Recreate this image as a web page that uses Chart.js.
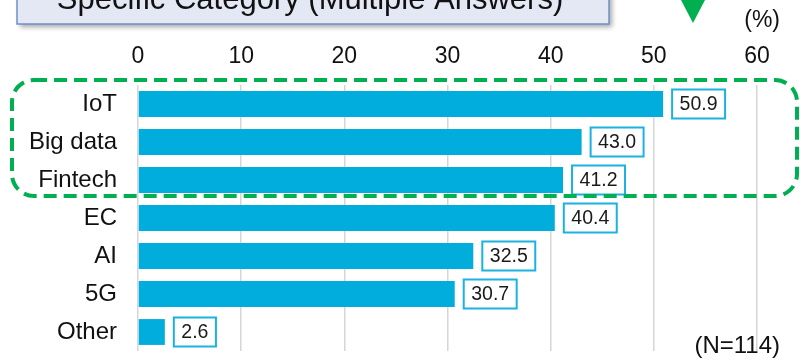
<!DOCTYPE html>
<html>
<head>
<meta charset="utf-8">
<script src="https://cdn.jsdelivr.net/npm/chart.js@4.4.1/dist/chart.umd.min.js"></script>
<style>
  html, body { margin: 0; padding: 0; background: #fff; }
  #wrap { width: 800px; height: 360px; }
</style>
</head>
<body>
<div id="wrap"><canvas id="chart"></canvas></div>
<script>
const categories = ['IoT', 'Big data', 'Fintech', 'EC', 'AI', '5G', 'Other'];
const shares = [50.9, 43.0, 41.2, 40.4, 32.5, 30.7, 2.6];
const axisMin = 0;
const axisMax = 60;
const axisStep = 10;

const titleText = 'Specific Category (Multiple Answers)';
const unitText = '(%)';
const sampleText = '(N=114)';

const FONT = '"Liberation Sans", Arial, Helvetica, sans-serif';
const BAR_BLUE = '#00ADDC';
const GREEN = '#00B050';

function roundedRect(ctx, x, y, w, h, r) {
  ctx.beginPath();
  ctx.moveTo(x + r, y);
  ctx.arcTo(x + w, y, x + w, y + h, r);
  ctx.arcTo(x + w, y + h, x, y + h, r);
  ctx.arcTo(x, y + h, x, y, r);
  ctx.arcTo(x, y, x + w, y, r);
  ctx.closePath();
}

// boxed value next to the end of every bar
const valueBoxes = {
  id: 'valueBoxes',
  afterDatasetsDraw(chart) {
    const ctx = chart.ctx;
    const meta = chart.getDatasetMeta(0);
    ctx.save();
    ctx.font = '19.5px ' + FONT;
    ctx.textAlign = 'center';
    ctx.textBaseline = 'middle';
    meta.data.forEach((bar, i) => {
      const txt = shares[i].toFixed(1);
      const w = ctx.measureText(txt).width + 15;
      const h = 29;
      const x = bar.x + 9;
      const y = bar.y - h / 2;
      ctx.fillStyle = '#fff';
      ctx.fillRect(x, y, w, h);
      ctx.lineWidth = 2;
      ctx.strokeStyle = '#1BB2E0';
      ctx.strokeRect(x, y, w, h);
      ctx.fillStyle = '#1a1a1a';
      ctx.fillText(txt, x + w / 2, bar.y + 1);
    });
    ctx.restore();
  }
};

// title box, highlight frame, marker and notes
const overlay = {
  id: 'overlay',
  afterDraw(chart) {
    const ctx = chart.ctx;
    ctx.save();

    // title box (top cut by the canvas edge)
    ctx.save();
    ctx.shadowColor = 'rgba(0,0,0,0.35)';
    ctx.shadowBlur = 5;
    ctx.shadowOffsetX = 3;
    ctx.shadowOffsetY = 3;
    ctx.fillStyle = '#E4E8F5';
    ctx.fillRect(17, -30, 592, 54);
    ctx.restore();
    ctx.lineWidth = 1.5;
    ctx.strokeStyle = '#6E8FC9';
    ctx.strokeRect(17, -30, 592, 54);
    ctx.fillStyle = '#111';
    ctx.font = '31px ' + FONT;
    ctx.textAlign = 'center';
    ctx.textBaseline = 'alphabetic';
    ctx.fillText(titleText, 310, 9);

    // green marker
    ctx.fillStyle = GREEN;
    ctx.beginPath();
    ctx.moveTo(681, 0);
    ctx.lineTo(705, 0);
    ctx.lineTo(693, 23);
    ctx.closePath();
    ctx.fill();

    // dashed frame around the top three rows
    ctx.setLineDash([13, 7]);
    ctx.lineWidth = 4;
    ctx.strokeStyle = GREEN;
    roundedRect(ctx, 12, 80, 785, 116, 22);
    ctx.stroke();
    ctx.setLineDash([]);

    // unit and sample size
    ctx.fillStyle = '#111';
    ctx.textAlign = 'right';
    ctx.font = '23px ' + FONT;
    ctx.textBaseline = 'middle';
    ctx.fillText(unitText, 780, 21);
    ctx.font = '24px ' + FONT;
    ctx.textBaseline = 'alphabetic';
    ctx.fillText(sampleText, 780, 353);

    ctx.restore();
  }
};

new Chart(document.getElementById('chart'), {
  type: 'bar',
  data: {
    labels: categories,
    datasets: [{
      data: shares,
      backgroundColor: BAR_BLUE,
      borderWidth: 0,
      barPercentage: 0.68,
      categoryPercentage: 1
    }]
  },
  options: {
    indexAxis: 'y',
    responsive: true,
    maintainAspectRatio: false,
    animation: false,
    layout: { padding: { left: 0, right: 43, top: 0, bottom: 9 } },
    plugins: {
      legend: { display: false },
      tooltip: { enabled: false }
    },
    scales: {
      x: {
        position: 'top',
        min: axisMin,
        max: axisMax,
        border: { display: false },
        grid: { color: '#D6D6D6', lineWidth: 1.5, drawTicks: false },
        ticks: {
          stepSize: axisStep,
          padding: 15,
          color: '#111',
          font: { family: FONT, size: 23 }
        },
        afterFit(scale) { scale.height = 85; }
      },
      y: {
        border: { display: false },
        grid: { display: false, drawTicks: false },
        ticks: {
          padding: 21,
          color: '#111',
          font: { family: FONT, size: 24 }
        },
        afterFit(scale) {
          scale.width = 138;
          // labels sit inside their rows, no extra room needed above/below
          scale.paddingTop = 0;
          scale.paddingBottom = 0;
        }
      }
    }
  },
  plugins: [valueBoxes, overlay]
});
</script>
</body>
</html>
